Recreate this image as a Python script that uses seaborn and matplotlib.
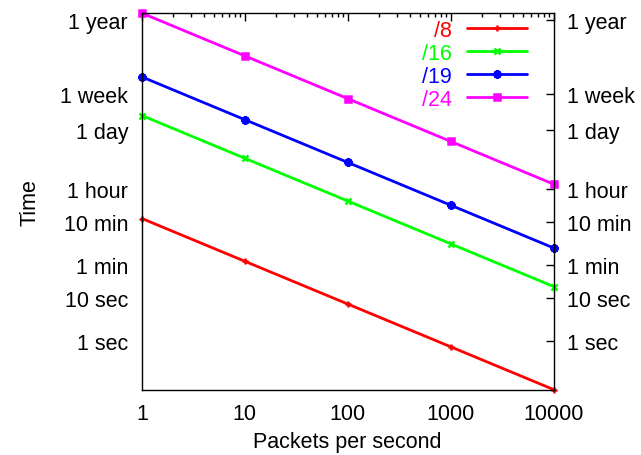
"""
Time to cover a prefix vs. packet rate (log-log, gnuplot look)
"""

import pandas as pd
import matplotlib
matplotlib.use("Agg")
import matplotlib.pyplot as plt
from matplotlib.ticker import NullLocator, FixedLocator, LogLocator, NullFormatter
import seaborn as sns

# ============ DATA ============
rates = [1, 10, 100, 1000, 10000]
time_8 = [720, 72, 7.2, 0.72, 0.072]
time_16 = [185000, 18500, 1850, 185, 18.5]
time_19 = [1480000, 148000, 14800, 1480, 148]
time_24 = [46000000, 4600000, 460000, 46000, 4600]

series_names = ["/8", "/16", "/19", "/24"]
series_values = [time_8, time_16, time_19, time_24]

ytick_values = [1, 10, 60, 600, 3600, 86400, 604800, 31536000]
ytick_labels = ["1 sec", "10 sec", "1 min", "10 min", "1 hour", "1 day", "1 week", "1 year"]
xtick_values = [1, 10, 100, 1000, 10000]
xtick_labels = ["1", "10", "100", "1000", "10000"]

# ============ STYLE ============
colors = ["#ff0000", "#00ff00", "#0000ff", "#ff00ff"]
markers = ["+", "x", (8, 2, 0), "s"]
marker_sizes = [5, 5, 6, 5]

sns.set_style("white")
plt.rcParams["font.family"] = ["Liberation Sans", "DejaVu Sans"]
plt.rcParams["font.size"] = 15.5
plt.rcParams["text.color"] = "black"
plt.rcParams["axes.labelcolor"] = "black"


def main():
    fig, ax = plt.subplots(figsize=(6.41, 4.56), dpi=100)
    fig.subplots_adjust(left=0.2215, right=0.8635, top=0.969, bottom=0.1436)

    for name, vals, c, m, ms in zip(series_names, series_values, colors, markers, marker_sizes):
        df = pd.DataFrame({"rate": rates, "time": vals})
        sns.lineplot(data=df, x="rate", y="time", ax=ax, color=c, marker=m,
                     markersize=ms, markeredgewidth=1.8, markeredgecolor=c,
                     linewidth=2, label=name, clip_on=False)

    ax.set_xscale("log")
    ax.set_yscale("log")
    ax.set_xlim(rates[0], rates[-1])
    all_vals = [v for s in series_values for v in s]
    ax.set_ylim(min(all_vals), max(all_vals))

    ax.xaxis.set_major_locator(FixedLocator(xtick_values))
    ax.set_xticklabels(xtick_labels)
    ax.xaxis.set_minor_locator(LogLocator(base=10, subs=range(2, 10)))
    ax.xaxis.set_minor_formatter(NullFormatter())
    ax.yaxis.set_major_locator(FixedLocator(ytick_values))
    ax.set_yticklabels(ytick_labels)
    ax.yaxis.set_minor_locator(NullLocator())

    ax.tick_params(which="both", direction="in", top=True, right=True,
                   labelright=True, colors="black", width=1)
    ax.tick_params(which="major", length=6)
    ax.tick_params(which="minor", length=3)
    ax.tick_params(axis="y", pad=10)
    ax.tick_params(axis="x", pad=10)

    for sp in ax.spines.values():
        sp.set_color("black")
        sp.set_linewidth(1)

    ax.set_xlabel("Packets per second", labelpad=5)
    ax.set_ylabel("Time", labelpad=14)

    leg = ax.legend(loc="upper right", bbox_to_anchor=(527 / 641, 1 - 21 / 456),
                    bbox_transform=fig.transFigure, frameon=False, markerfirst=False,
                    handlelength=2.8, handletextpad=0.7, labelspacing=0.09,
                    borderpad=0, borderaxespad=0, numpoints=1)
    for text, line in zip(leg.get_texts(), leg.get_lines()):
        text.set_color(line.get_color())

    ax.grid(False)
    fig.savefig("out.png", dpi=100)


if __name__ == "__main__":
    main()
